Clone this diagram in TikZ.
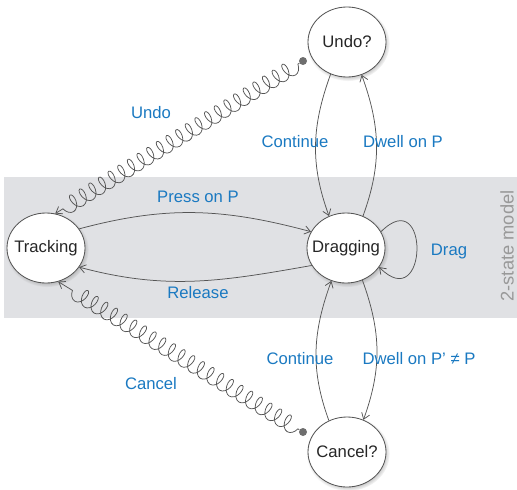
\documentclass[tikz,border=0pt]{standalone}
\usepackage{fontspec}
\setmainfont{Liberation Sans}
\usetikzlibrary{arrows.meta, shapes.geometric, shadows, decorations.pathmorphing}

\definecolor{labelblue}{RGB}{26,121,193}
\definecolor{bandgray}{RGB}{224,225,228}
\definecolor{linegray}{RGB}{85,85,85}

\tikzset{
  statenode/.style={ellipse, draw=linegray, line width=0.5pt, fill=white, text=black!85,
    minimum width=46.8pt, minimum height=42pt, inner sep=-4pt,
    circular drop shadow={shadow xshift=0.6pt, shadow yshift=-0.9pt, shadow scale=1.07, opacity=0.5}},
  trans/.style={linegray, line width=0.45pt, ->},
  lbl/.style={text=labelblue},
  spring/.style={linegray, line width=0.45pt, decorate,
    decoration={coil, amplitude=4.8pt, segment length=6.8pt, aspect=0.6, pre length=1pt, post length=4pt}},
  springdot/.style={circle, fill=linegray!85, inner sep=0pt, minimum size=4.8pt},
}

\begin{document}
\begin{tikzpicture}[x=0.6pt, y=0.6pt, >={Straight Barb[length=3.5pt, width=5pt]}]

\useasboundingbox (0,0) rectangle (517,489);

% the 2-state band
\fill [bandgray] (4,171) rectangle (517,312);
\node [text=black!40, rotate=90, font=\fontsize{11}{13}\selectfont] (model) at (507,243) {2-state model};

\node[statenode] (trk) at (46,241) {Tracking};
\node[statenode] (drg) at (346,241) {Dragging};
\node[statenode] (undo) at (347,447) {Undo?};
\node[statenode] (cncl) at (347,37) {Cancel?};

\node[springdot] (udot) at (303,428) {};
\node[springdot] (cdot) at (303,57) {};

% inside the band
\draw [trans] (trk.30) to[out=15, in=165] (drg.155);
\draw [trans] (drg.207) to[out=190, in=-15] (trk.-30);
\draw [trans] (drg.25) to[out=45, in=-45, looseness=5] (drg.-30);

% up and down
\draw [trans] (undo.243) to[out=250, in=110] (drg.118);
\draw [trans] (drg.62) to[out=70, in=-70] (undo.-66);
\draw [trans] (cncl.120) to[out=110, in=250] (drg.246);
\draw [trans] (drg.-63) to[out=-70, in=70] (cncl.63);

% springs back to Tracking
\draw [spring, ->] (udot) -- (trk.75);
\draw [spring, ->] (cdot) -- (trk.-70);

\node[lbl] (lundo) at (151,376) {Undo};
\node[lbl] (lpress) at (198,292) {Press on P};
\node[lbl] (lrel) at (198,196) {Release};
\node[lbl] (ldrag) at (449,238) {Drag};
\node[lbl] (lcont) at (295,347) {Continue};
\node[lbl] (ldwell) at (403,347) {Dwell on P};
\node[lbl] (lcontb) at (300,130) {Continue};
\node[lbl] (ldwellb) at (419,130) {Dwell on P’ ≠ P};
\node[lbl] (lcancel) at (151,105) {Cancel};

\end{tikzpicture}
\end{document}
